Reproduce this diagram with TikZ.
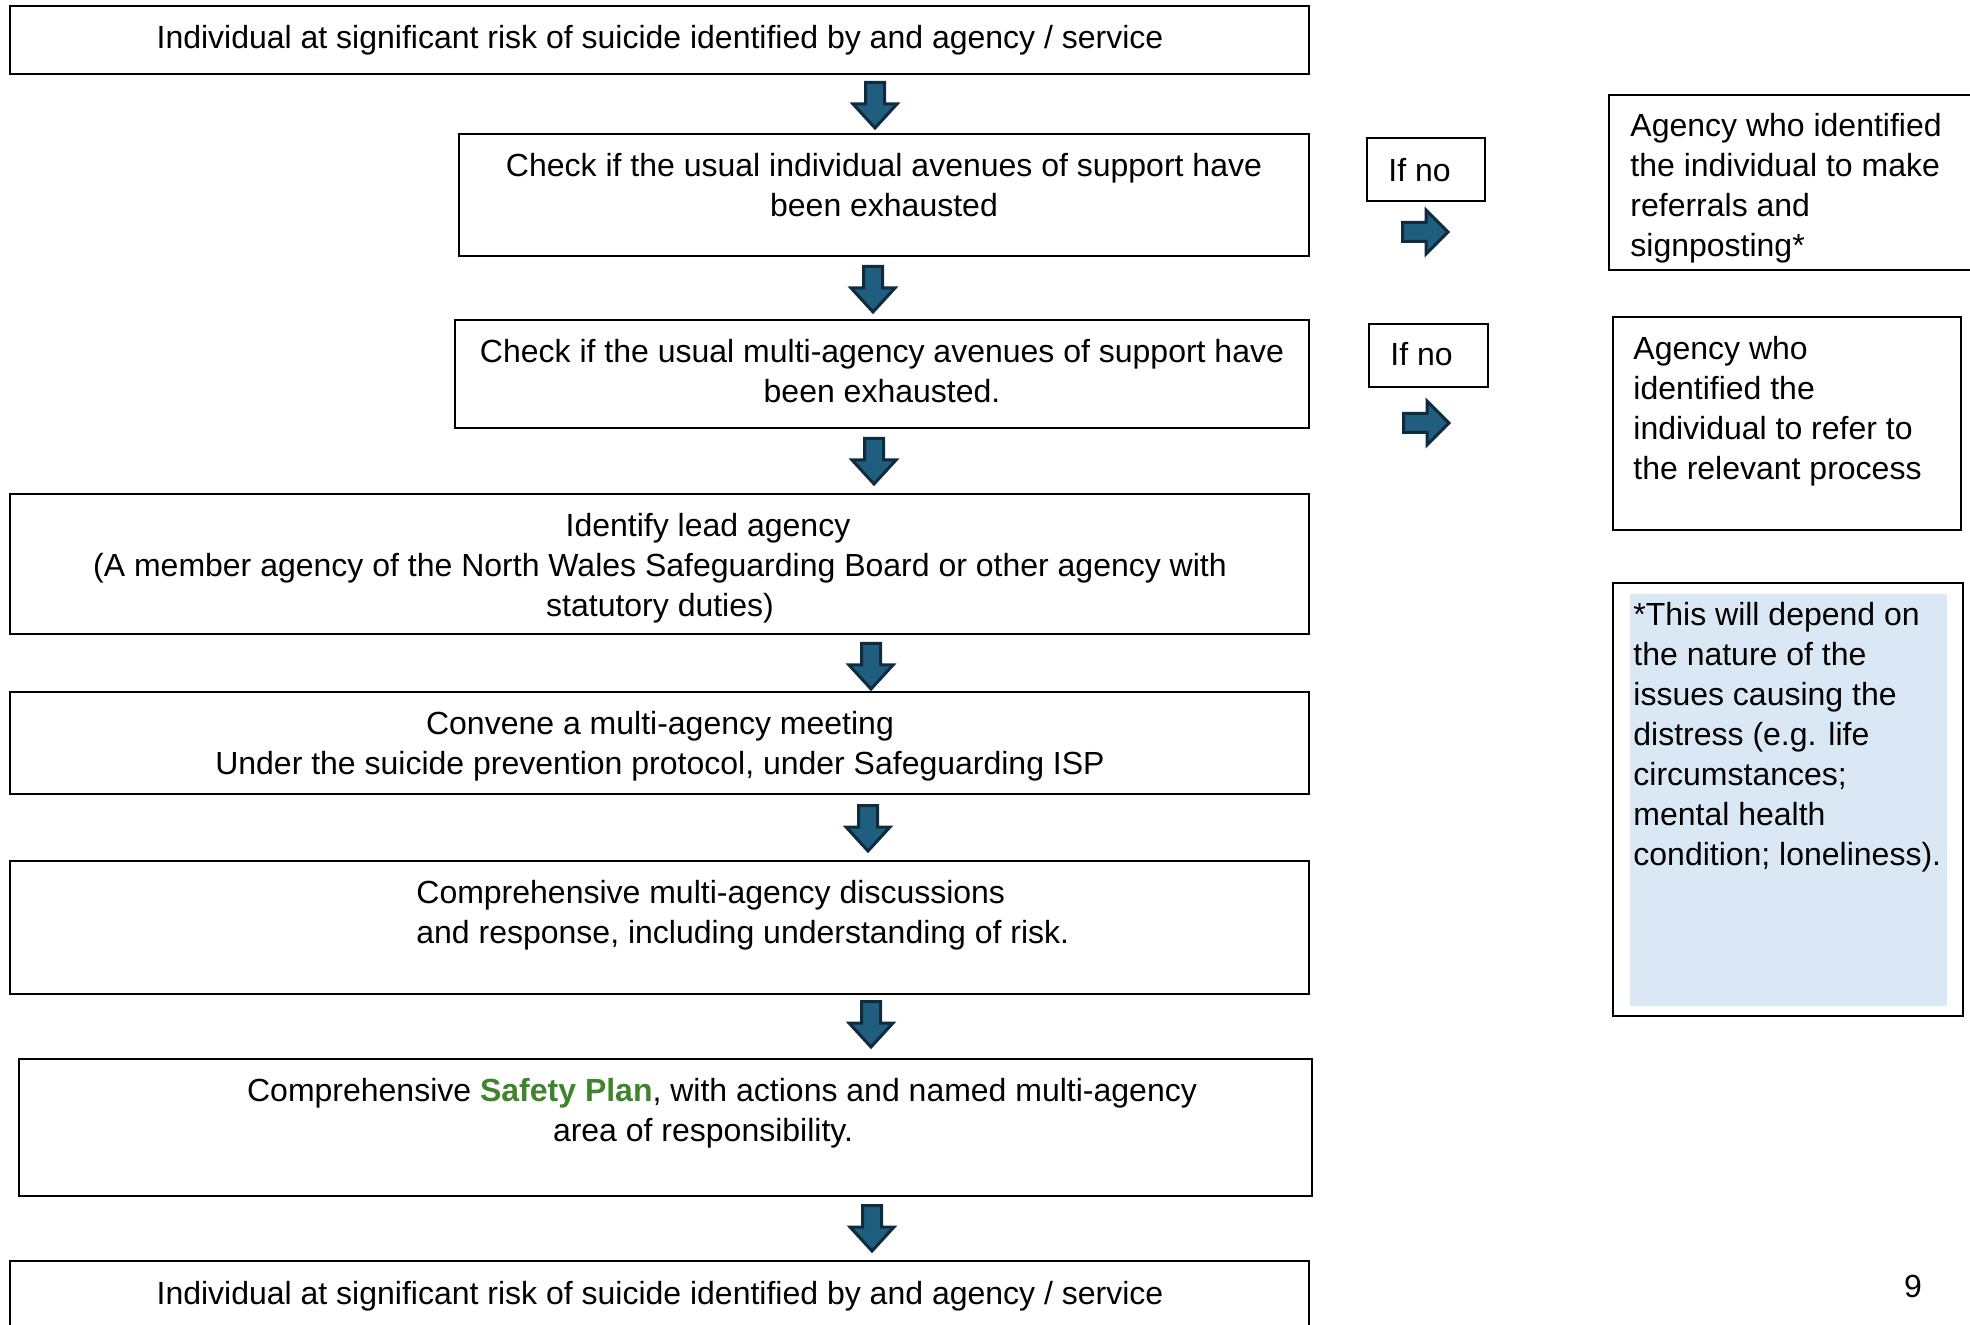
\documentclass[tikz,border=0pt]{standalone}
\usepackage{fontspec}
\setmainfont{Liberation Sans}
\usepackage{tikz}
\usetikzlibrary{positioning}
\definecolor{arrblue}{RGB}{31,94,127}
\definecolor{arredge}{RGB}{16,42,62}
\definecolor{plangreen}{RGB}{63,132,44}
\definecolor{noteblue}{RGB}{218,232,246}
\tikzset{
  box/.style={draw=black, line width=1pt},
  txt/.style={font=\fontsize{16}{20}\selectfont, inner sep=0pt, align=center},
  ltxt/.style={txt, align=left, anchor=west},
  blockarrow/.style={fill=arrblue, draw=arredge, line width=1.5pt},
  downarr/.pic={\filldraw[blockarrow] (-9.5,1.5) -- (9.5,1.5) -- (9.5,23) -- (22,23) -- (0,47) -- (-22,23) -- (-9.5,23) -- cycle;},
  rightarr/.pic={\filldraw[blockarrow] (1.5,-9.5) -- (25,-9.5) -- (25,-22) -- (47,0) -- (25,22) -- (25,9.5) -- (1.5,9.5) -- cycle;},
}

\begin{document}
\begin{tikzpicture}[x=0.5pt, y=-0.5pt]
        \useasboundingbox (0,0) rectangle (1970,1325);
        \clip (0,0) rectangle (1970,1325);

        \draw[box] (10,6) rectangle (1309,74);       \node[txt] (t1) at (660,40) {Individual at significant risk of suicide identified by and agency / service};
        \draw[box] (459,134) rectangle (1309,256);   \node[txt] (t2) at (884,185) {Check if the usual individual avenues of support have\\been exhausted};
        \draw[box] (455,320) rectangle (1309,428);   \node[txt] (t3) at (882,371) {Check if the usual multi-agency avenues of support have\\been exhausted.};
        \draw[box] (10,494) rectangle (1309,634);    \node[txt] (t4) at (660,568) {\hspace*{48pt}Identify lead agency\\(A member agency of the North Wales Safeguarding Board or other agency with\\statutory duties)};
        \draw[box] (10,692) rectangle (1309,794);    \node[txt] (t5) at (660,746) {Convene a multi-agency meeting\\Under the suicide prevention protocol, under Safeguarding ISP};
        \draw[box] (10,861) rectangle (1309,994);    \node[ltxt] (t6) at (416,915) {Comprehensive multi-agency discussions\\and response, including understanding of risk.};
        \draw[box] (19,1059) rectangle (1312,1196);  \node[txt] (t7) at (722,1113) {Comprehensive \textcolor{plangreen}{\textbf{Safety Plan}}, with actions and named multi-agency\\area of responsibility.\hspace*{19pt}};
        \draw[box] (10,1261) rectangle (1309,1345);  \node[txt] (t8) at (660,1296) {Individual at significant risk of suicide identified by and agency / service};

        \pic at (875,81) {downarr};   \pic at (873,265) {downarr};   \pic at (874,437) {downarr};
        \pic at (871,642) {downarr};  \pic at (868,804) {downarr};   \pic at (871,1000) {downarr};
        \pic at (872,1204) {downarr};

        \draw[box] (1367,138) rectangle (1485,201);  \node[ltxt] (n1) at (1388,170) {If no};
        \draw[box] (1369,324) rectangle (1488,387);  \node[ltxt] (n2) at (1390,354) {If no};
        \pic at (1401,232) {rightarr};  \pic at (1402,423) {rightarr};

        \draw[box] (1609,95) rectangle (1985,270);   \node[ltxt] (r1) at (1630,188) {Agency who identified\\the individual to make\\referrals and\\signposting*};
        \draw[box] (1613,317) rectangle (1961,530);  \node[ltxt] (r2) at (1633,411) {Agency who\\identified the\\individual to refer to\\the relevant process};
        \draw[box] (1613,583) rectangle (1963,1016); \fill[noteblue] (1630,594) rectangle (1947,1006);
        \node[ltxt] (r3) at (1633,737) {*This will depend on\\the nature of the\\issues causing the\\distress (e.g. life\\circumstances;\\mental health\\condition; loneliness).};

        \node[txt] (pg) at (1913,1286) {9};
    \end{tikzpicture}
\end{document}
